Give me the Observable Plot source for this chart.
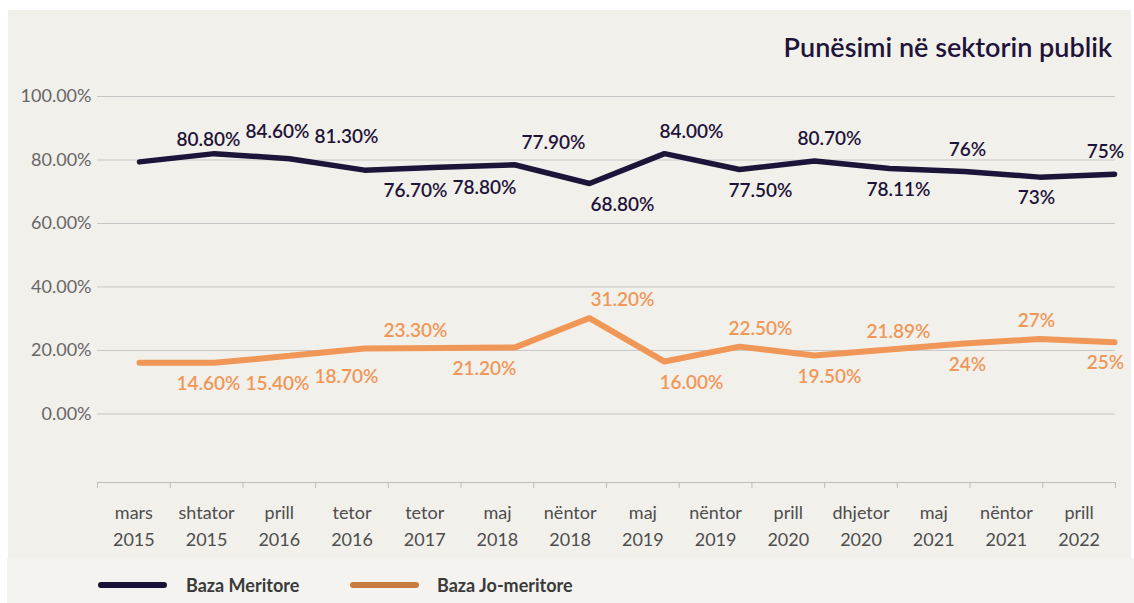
<!DOCTYPE html>
<html>
<head>
<meta charset="utf-8">
<script src="https://cdn.jsdelivr.net/npm/d3@7"></script>
<script src="https://cdn.jsdelivr.net/npm/@observablehq/plot@0.6"></script>
<style>
  body { margin: 0; background: #ffffff; font-family: Lato, "Open Sans", sans-serif; }
  #wrap { position: relative; width: 1134px; height: 603px; overflow: hidden; }
  #panel { position: absolute; left: 8px; top: 10px; width: 1123px; height: 548px; background: #f2f0eb; }
  #legendbar { position: absolute; left: 7px; top: 558px; width: 1127px; height: 45px; background: #f4f3ef; }
  .layer { position: absolute; left: 0; top: 0; }
  #title { position: absolute; right: 22px; top: 31px; font-size: 27px; font-weight: 600; color: #1e1339; line-height: 32px; white-space: nowrap; }
  .sw { position: absolute; top: 582px; width: 69px; height: 6px; border-radius: 3px; }
  .lt { position: absolute; top: 573px; font-size: 18px; font-weight: 700; color: #3a3a3a; line-height: 24px; white-space: nowrap; }
</style>
</head>
<body>
<div id="wrap">
  <div id="panel"></div>
  <div id="legendbar"></div>
  <div id="axes" class="layer"></div>
  <div id="lines" class="layer"></div>
  <div id="labels" class="layer"></div>
  <div id="title">Punësimi në sektorin publik</div>
  <div id="legend"></div>
</div>
<script>
// ---------- data ----------
const months = ["mars", "shtator", "prill", "tetor", "tetor", "maj", "nëntor", "maj", "nëntor", "prill", "dhjetor", "maj", "nëntor", "prill"];
const years  = ["2015", "2015", "2016", "2016", "2017", "2018", "2018", "2019", "2019", "2020", "2020", "2021", "2021", "2022"];
const meritLine    = [79.4, 82.0, 80.4, 76.8, 77.7, 78.5, 72.6, 82.0, 77.0, 79.7, 77.3, 76.4, 74.6, 75.5];
const nonMeritLine = [16.1, 16.1, 18.3, 20.6, 20.8, 20.9, 30.2, 16.5, 21.2, 18.4, 20.3, 22.2, 23.6, 22.6];
const meritLabels    = ["80.80%", "84.60%", "81.30%", "76.70%", "78.80%", "77.90%", "68.80%", "84.00%", "77.50%", "80.70%", "78.11%", "76%", "73%", "75%"];
const nonMeritLabels = ["14.60%", "15.40%", "18.70%", "23.30%", "21.20%", null, "31.20%", "16.00%", "22.50%", "19.50%", "21.89%", "24%", "27%", "25%"];
const yTicks = [0, 20, 40, 60, 80, 100];
const seriesNames = ["Baza Meritore", "Baza Jo-meritore"];

// ---------- styling ----------
const navy = "#1e1339";
const orange = "#f09758";
const legendColors = ["#1b1035", "#c97c3f"];
const W = 1134, H = 557;
const yMin = -21.6;
const yDomain = [yMin, 100];
const vMargins = { marginTop: 96, marginBottom: 75 };

const cats = months.map((m, i) => m + " " + years[i]);
const rows = cats.map((c, i) => ({
  cat: c, i,
  merit: meritLine[i], non: nonMeritLine[i],
  mLab: meritLabels[i], nLab: nonMeritLabels[i]
}));

// ---------- axes / grid layer ----------
const axes = Plot.plot({
  width: W, height: H,
  marginLeft: 97, marginRight: 19, ...vMargins,
  style: { background: "transparent", fontFamily: "Lato, sans-serif", overflow: "visible" },
  x: { domain: [0, cats.length] },
  y: { domain: yDomain },
  marks: [
    Plot.ruleY(yTicks, { stroke: "#c6c6c6", strokeWidth: 1 }),
    Plot.ruleY([yMin], { stroke: "#bdbdbd", strokeWidth: 1.2 }),
    Plot.axisY(yTicks, {
      tickSize: 0, tickPadding: 6, label: null,
      tickFormat: d => d.toFixed(2) + "%",
      fontSize: 18, fill: "#666666"
    }),
    Plot.axisX(d3.range(cats.length + 1), {
      tickSize: 6, stroke: "#bdbdbd", tickFormat: () => "", label: null
    }),
    Plot.axisX(d3.range(cats.length).map(i => i + 0.5), {
      tickSize: 0, tickPadding: 17, label: null,
      tickFormat: v => months[Math.floor(v)] + "\n" + years[Math.floor(v)],
      fontSize: 18, lineHeight: 1.5, fill: "#4d4d4d", fontWeight: 400
    })
  ]
});
document.getElementById("axes").append(axes);

// ---------- lines layer ----------
const lines = Plot.plot({
  width: W, height: H,
  marginLeft: 138, marginRight: 20, ...vMargins,
  style: { background: "transparent", overflow: "visible" },
  x: { type: "point", domain: cats, padding: 0, axis: null },
  y: { domain: yDomain, axis: null },
  marks: [
    Plot.line(rows, { x: "cat", y: "non", stroke: orange, strokeWidth: 6, strokeLinejoin: "miter" }),
    Plot.line(rows, { x: "cat", y: "merit", stroke: navy, strokeWidth: 5.5, strokeLinejoin: "miter" })
  ]
});
document.getElementById("lines").append(lines);

// ---------- value labels layer ----------
const meritAbove = new Set([0, 1, 2, 5, 7, 9, 11, 13]);
const nonAbove = new Set([3, 6, 8, 10, 12]);
const labelFont = { fontSize: 19, fontWeight: 600, fontFamily: "Lato, sans-serif" };
const labels = Plot.plot({
  width: W, height: H,
  marginLeft: 203, marginRight: 25, ...vMargins,
  style: { background: "transparent", overflow: "visible" },
  x: { type: "point", domain: cats, padding: 0, axis: null },
  y: { domain: yDomain, axis: null },
  marks: [
    Plot.text(rows.filter(d => meritAbove.has(d.i)), { x: "cat", y: "merit", text: "mLab", dy: -22, fill: navy, ...labelFont }),
    Plot.text(rows.filter(d => !meritAbove.has(d.i)), { x: "cat", y: "merit", text: "mLab", dy: 21, fill: navy, ...labelFont }),
    Plot.text(rows.filter(d => d.nLab && nonAbove.has(d.i)), { x: "cat", y: "non", text: "nLab", dy: -18, fill: orange, ...labelFont }),
    Plot.text(rows.filter(d => d.nLab && !nonAbove.has(d.i)), { x: "cat", y: "non", text: "nLab", dy: 21, fill: orange, ...labelFont })
  ]
});
document.getElementById("labels").append(labels);

// ---------- legend ----------
const legend = document.getElementById("legend");
const legendPos = [{ sw: 98, tx: 186 }, { sw: 350, tx: 437 }];
seriesNames.forEach((name, k) => {
  const sw = document.createElement("div");
  sw.className = "sw";
  sw.style.left = legendPos[k].sw + "px";
  sw.style.background = legendColors[k];
  legend.append(sw);
  const t = document.createElement("div");
  t.className = "lt";
  t.style.left = legendPos[k].tx + "px";
  t.textContent = name;
  legend.append(t);
});
</script>
</body>
</html>
